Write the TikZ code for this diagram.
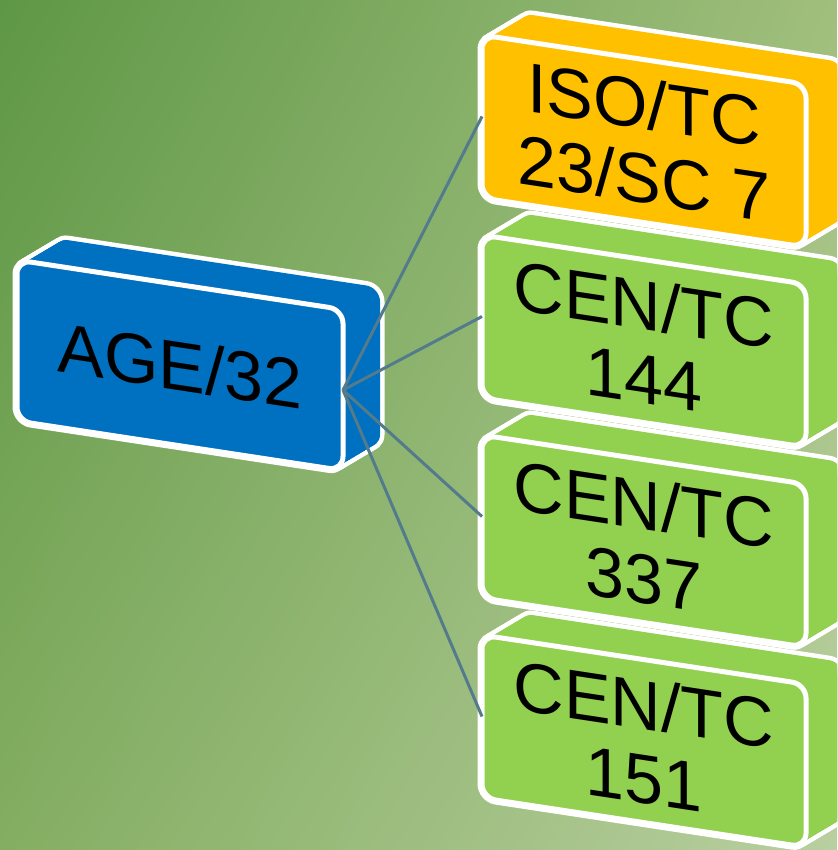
\documentclass[tikz,border=0pt]{standalone}
\usepackage{fontspec}
\setmainfont{Liberation Sans}
\usetikzlibrary{shadings}
\definecolor{ageblue}{HTML}{0070C0}
\definecolor{isoorange}{HTML}{FFC000}
\definecolor{cengreen}{HTML}{92D050}
\definecolor{linkc}{HTML}{547B8C}
\definecolor{bgUL}{HTML}{5E9746}
\definecolor{bgUR}{HTML}{A0BF7C}
\definecolor{bgLL}{HTML}{84AE62}
\definecolor{bgLR}{HTML}{B9CFA0}
\tikzset{
  boxtext/.style={font=\fontsize{70}{74}\selectfont, align=center, inner sep=0pt, text=black},
  link/.style={linkc, line width=3pt},
  silh/.style={white, line width=9pt, rounded corners=14pt},
  frontface/.style={white, line width=5pt, rounded corners=14pt}
}
% #1 name, #2 x, #3 Y, #4 w, #5 h, #6 colour, #7 text
\newcommand\slabbox[7]{%
  \begin{scope}[shift={(#2,#3)}, yslant=-0.152]
    \foreach \i in {0,...,20}{\draw[silh] (\i*37/20,\i*27.6/20) rectangle ++(#4,-#5);}
    \foreach \i in {0,...,20}{\fill[#6, rounded corners=14pt] (\i*37/20,\i*27.6/20) rectangle ++(#4,-#5);}
    \draw[frontface, fill=#6] (0,0) rectangle (#4,-#5);
    \node[transform shape, boxtext] (#1) at (#4/2,-#5/2) {#7};
    \coordinate (#1-l) at (0,-#5/2);
    \coordinate (#1-r) at (#4,-#5/2);
  \end{scope}}
\begin{document}
\begin{tikzpicture}[x=1pt,y=1pt]
  \useasboundingbox (0,0) rectangle (837,850);
  \clip (0,0) rectangle (837,850);
  \shade[upper left=bgUL, upper right=bgUR, lower left=bgLL, lower right=bgLR] (0,0) rectangle (837,850);
  \slabbox{c151}{482}{215}{324}{163}{cengreen}{CEN/TC\\151}
  \slabbox{c337}{482}{415}{324}{163}{cengreen}{CEN/TC\\337}
  \slabbox{c144}{482}{615}{324}{163}{cengreen}{CEN/TC\\144}
  \slabbox{iso}{482}{815}{324}{163}{isoorange}{ISO/TC\\23/SC 7}
  \slabbox{age}{17}{590}{326}{161}{ageblue}{AGE/32}
  \draw[link] (age-r) -- (iso-l);
  \draw[link] (age-r) -- (c144-l);
  \draw[link] (age-r) -- (c337-l);
  \draw[link] (age-r) -- (c151-l);
\end{tikzpicture}
\end{document}
